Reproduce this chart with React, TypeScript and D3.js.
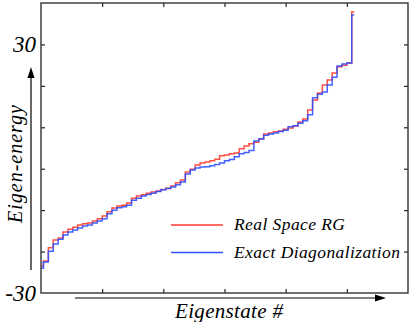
import React, { useEffect, useRef } from 'react'
import * as d3 from 'd3'

// one sample every 4 eigenstates, 0..256
const step = 4
const realSpaceRG = [
  -23.5, -22.3, -19.1, -17.2, -16.7, -15.3, -14.6, -14.1, -13.6, -13.3,
  -13.1, -12.6, -12.1, -11.4, -10.4, -9.5, -9.0, -8.8, -8.3, -7.1,
  -6.6, -6.3, -5.9, -5.6, -5.4, -5.0, -4.7, -4.2, -3.4, -2.7,
  -0.8, -0.1, 0.9, 1.4, 1.6, 1.9, 2.3, 3.1, 3.3, 3.6,
  3.8, 4.8, 5.5, 6.0, 6.4, 7.2, 8.4, 8.6, 8.9, 9.1,
  9.5, 9.8, 10.3, 11.3, 12.0, 14.2, 16.6, 18.3, 20.2, 21.4,
  23.1, 24.6, 25.0, 25.5, 37.8,
]
const exactDiag = [
  -24.0, -22.5, -19.9, -18.2, -17.0, -16.0, -15.3, -14.8, -14.3, -13.8,
  -13.6, -13.1, -12.6, -12.1, -10.9, -10.0, -9.4, -9.2, -8.8, -7.6,
  -7.1, -6.6, -6.2, -5.9, -5.5, -5.1, -4.8, -4.4, -3.9, -3.2,
  -1.3, -0.3, 0.2, 0.4, 0.5, 0.7, 1.0, 1.4, 1.9, 2.2,
  2.9, 3.6, 3.9, 4.4, 6.7, 7.2, 8.1, 8.4, 8.6, 9.0,
  9.3, 10.1, 10.4, 11.0, 11.6, 13.0, 17.1, 18.0, 18.5, 20.2,
  22.1, 24.8, 25.3, 25.5, 37.1,
]
const seriesNames = ['Real Space RG', 'Exact Diagonalization']
const seriesColors = ['#ff3b2f', '#2f52ff']
const yTicks = [-20, -10, 0, 10, 20, 30]
const xTicks = [50, 100, 150, 200, 250]
const yLabels = [30, -30]

const font = '"Liberation Serif", serif'

export default function App() {
  const ref = useRef<SVGSVGElement>(null)

  useEffect(() => {
    const svg = d3.select(ref.current)
    svg.selectAll('*').remove()

    const x = d3.scaleLinear().domain([0, 300]).range([41, 408])
    const y = d3.scaleLinear().domain([-30, 40]).range([293, 3])

    // inward ticks on all four sides
    const tickGroups = [
      { axis: d3.axisLeft(y).tickValues(yTicks), t: 'translate(41,0)' },
      { axis: d3.axisRight(y).tickValues(yTicks), t: 'translate(408,0)' },
      { axis: d3.axisBottom(x).tickValues(xTicks), t: 'translate(0,293)' },
      { axis: d3.axisTop(x).tickValues(xTicks), t: 'translate(0,3)' },
    ]
    tickGroups.forEach(g => {
      const a = svg.append('g')
        .attr('transform', g.t)
        .call(g.axis.tickSize(-4).tickFormat(() => ''))
      a.select('.domain').remove()
      a.selectAll('line').attr('stroke', '#222').attr('stroke-width', 1.2)
    })

    const line = d3.line<number>()
      .x((d, i) => x(i * step))
      .y(d => y(d))
      .curve(d3.curveStep)

    ;[realSpaceRG, exactDiag].forEach((s, k) => {
      svg.append('path')
        .datum(s)
        .attr('d', line)
        .attr('fill', 'none')
        .attr('stroke', seriesColors[k])
        .attr('stroke-width', 1.5)
        .attr('stroke-opacity', 0.9)
    })

    // frame
    svg.append('rect')
      .attr('x', x(0)).attr('y', y(40))
      .attr('width', x(300) - x(0)).attr('height', y(-30) - y(40))
      .attr('fill', 'none').attr('stroke', '#333').attr('stroke-width', 1.4)

    // y labels
    svg.selectAll('.ylab')
      .data(yLabels)
      .enter().append('text')
      .attr('x', 36)
      .attr('y', d => y(d) + 8)
      .attr('text-anchor', 'end')
      .attr('font-family', font)
      .attr('font-style', 'italic')
      .attr('font-size', 23)
      .text(d => String(d))

    // legend
    seriesNames.forEach((n, k) => {
      const ly = 225 + k * 27.5
      svg.append('line')
        .attr('x1', 171).attr('x2', 223).attr('y1', ly).attr('y2', ly)
        .attr('stroke', seriesColors[k]).attr('stroke-width', 1.6)
      svg.append('text')
        .attr('x', 234).attr('y', ly + 5)
        .attr('font-family', font)
        .attr('font-style', 'italic')
        .attr('font-size', 17.5)
        .attr('textLength', k === 0 ? 111 : 166)
        .text(n)
    })

    // axis arrows
    svg.append('line').attr('x1', 31).attr('x2', 31).attr('y1', 270).attr('y2', 76)
      .attr('stroke', '#000').attr('stroke-width', 1.2)
    svg.append('path').attr('d', 'M31,67 L27.5,78 L34.5,78 Z').attr('fill', '#000')
    svg.append('line').attr('x1', 75).attr('x2', 377).attr('y1', 298).attr('y2', 298)
      .attr('stroke', '#000').attr('stroke-width', 1.2)
    svg.append('path').attr('d', 'M386,298 L375,294.5 L375,301.5 Z').attr('fill', '#000')

    // axis titles
    svg.append('text')
      .attr('transform', 'translate(22,164) rotate(-90)')
      .attr('text-anchor', 'middle')
      .attr('font-family', font)
      .attr('font-style', 'italic')
      .attr('font-size', 20)
      .attr('textLength', 118)
      .text('Eigen-energy')
    svg.append('text')
      .attr('x', 229).attr('y', 318)
      .attr('text-anchor', 'middle')
      .attr('font-family', font)
      .attr('font-style', 'italic')
      .attr('font-size', 21)
      .attr('textLength', 108)
      .text('Eigenstate #')
  }, [])

  return (
    <svg ref={ref} width={415} height={322}
      style={{ position: 'absolute', left: 0, top: 0, background: '#fff' }} />
  )
}
